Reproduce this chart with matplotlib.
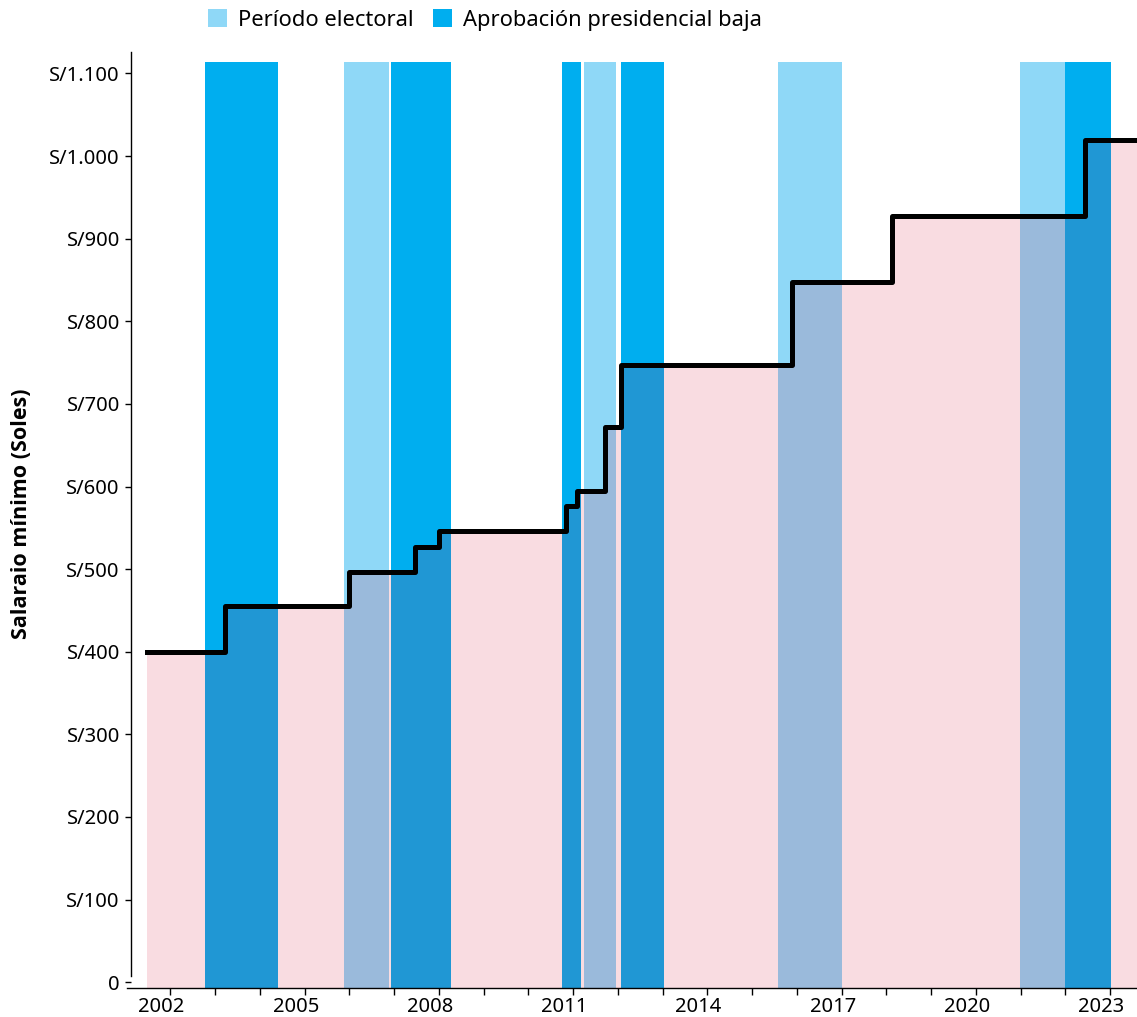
import numpy as np
import matplotlib
matplotlib.use('Agg')
import matplotlib.pyplot as plt
from matplotlib.patches import Patch

plt.rcParams['font.family'] = ['Noto Sans', 'DejaVu Sans']

# Minimum wage steps (fractional year, value in soles)
step_years = [2001.47, 2003.22, 2006.0, 2007.46, 2008.0, 2010.83, 2011.08,
              2011.71, 2012.06, 2015.88, 2018.12, 2022.43, 2023.6]
step_values = [400, 455, 497, 527, 546, 577, 595, 672, 747, 847, 927, 1020, 1020]

# Shaded periods
electoral_start = [2005.87, 2011.24, 2015.57, 2020.98]
electoral_end = [2006.88, 2011.96, 2017.0, 2022.0]
low_approval_start = [2002.77, 2006.94, 2010.74, 2012.06, 2022.0]
low_approval_end = [2004.41, 2008.26, 2011.17, 2013.02, 2023.03]

year_labels = [2002, 2005, 2008, 2011, 2014, 2017, 2020, 2023]
y_ticks = list(range(0, 1101, 100))

light_blue = '#8FD8F7'
dark_blue = '#00AEEF'

fig = plt.figure(figsize=(11.37, 10.17), dpi=100)
ax = fig.add_axes([127 / 1137, 29 / 1017, 1 - 127 / 1137, (988 - 52) / 1017])

y_bottom, y_top = -7, 1126
span_top = (1114 - y_bottom) / (y_top - y_bottom)

for s, e in zip(electoral_start, electoral_end):
    ax.axvspan(s, e, ymin=0, ymax=span_top, color=light_blue, lw=0, zorder=1)
for s, e in zip(low_approval_start, low_approval_end):
    ax.axvspan(s, e, ymin=0, ymax=span_top, color=dark_blue, lw=0, zorder=1)

ax.fill_between(step_years, step_values, y_bottom, step='post',
                color='crimson', alpha=0.15, lw=0, zorder=2)
ax.step(step_years, step_values, where='post', color='black', lw=3.6, zorder=3)

ax.set_xlim(2001.03, 2023.6)
ax.set_ylim(y_bottom, y_top)

# spines
for side in ['top', 'right']:
    ax.spines[side].set_visible(False)
ax.spines['left'].set_position(('data', 2001.12))
ax.spines['left'].set_bounds(8, y_top)
ax.spines['left'].set_linewidth(1)
ax.spines['bottom'].set_linewidth(1)

# y ticks
ax.set_yticks(y_ticks)
ax.set_yticklabels(['0'] + ['S/' + f'{v:,}'.replace(',', '.') for v in y_ticks[1:]])
ax.tick_params(axis='y', length=4, width=1, labelsize=14.5, pad=4)

# x ticks: yearly marks, labels slightly left of the marks
ax.set_xticks(np.arange(2002, 2024), minor=True)
ax.set_xticks([y - 0.2 for y in year_labels])
ax.set_xticklabels([str(y) for y in year_labels])
ax.tick_params(axis='x', which='major', length=0, labelsize=14.5, pad=6.5)
ax.tick_params(axis='x', which='minor', length=5, width=1)

ax.set_ylabel('Salaraio mínimo (Soles)', fontsize=15.5, fontweight='bold',
              family=['Open Sans', 'DejaVu Sans'])
ax.yaxis.set_label_coords(-0.094, 0.507)

handles = [Patch(facecolor=light_blue, edgecolor='none'),
           Patch(facecolor=dark_blue, edgecolor='none')]
fig.legend(handles, ['Período electoral', 'Aprobación presidencial baja'],
           loc='center', bbox_to_anchor=(485 / 1137, 1 - 20 / 1017), ncol=2,
           frameon=False, fontsize=15.8, handlelength=0.85, handleheight=0.85,
           handletextpad=0.5, columnspacing=0.9, borderpad=0)

fig.savefig('out.png', dpi=100)
